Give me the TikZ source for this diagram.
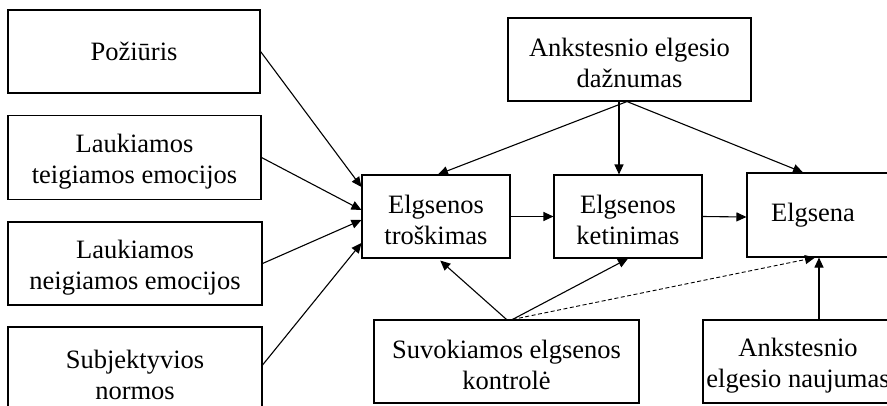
\documentclass[tikz,border=0pt]{standalone}
\usepackage{fontspec}
\setmainfont{Liberation Serif}
\usetikzlibrary{arrows.meta}
% taller first line so two-line labels sit a little lower in their boxes
\newcommand{\topstrut}{\rule{0pt}{26pt}}
\begin{document}
\begin{tikzpicture}[x=1pt,y=-1pt,
  box/.style={draw,line width=1.1pt,rectangle,inner sep=0pt,align=center,
    font=\fontsize{26.5}{31}\selectfont},
  arr/.style={line width=1.1pt,-{Triangle[length=10pt,width=9pt]}},
  darr/.style={arr,dashed,dash pattern=on 4pt off 2.5pt,line width=0.9pt}]
\useasboundingbox (0,0) rectangle (887,405);
\clip (0,0) rectangle (887,405);

% left column of factors
\node[box,minimum width=252pt,minimum height=83pt] (poz) at (134,51.5) {Požiūris};
\node[box,minimum width=253pt,minimum height=84pt] (teig) at (134.5,157.5) {\topstrut Laukiamos\\teigiamos emocijos};
\node[box,minimum width=254pt,minimum height=83pt] (neig) at (135,263.5) {\topstrut Laukiamos\\neigiamos emocijos};
\node[box,minimum width=254pt,minimum height=95pt] (subj) at (135,374.5) {Subjektyvios\\normos};

% top factor
\node[box,minimum width=243pt,minimum height=83pt] (dazn) at (629.5,59.5) {\topstrut Ankstesnio elgesio\\dažnumas};

% main chain
\node[box,minimum width=148pt,minimum height=83pt] (tros) at (436,216.5) {\topstrut Elgsenos\\troškimas};
\node[box,minimum width=148pt,minimum height=83pt] (ket) at (628,216.5) {\topstrut Elgsenos\\ketinimas};
\node[box,minimum width=148pt,minimum height=84pt] (elg) at (821,215) {Elgsena\hspace{16pt}};

% bottom factors
\node[box,minimum width=265pt,minimum height=83pt] (suv) at (506.5,361.5) {\topstrut Suvokiamos elgsenos\\kontrolė};
\node[box,minimum width=190pt,minimum height=83pt] (nauj) at (798,361.5) {\topstrut Ankstesnio\\elgesio naujumas};

% inputs into desire
\draw[arr] (poz.east) -- ([yshift=29.5pt]tros.west);
\draw[arr] (teig.east) -- ([yshift=6.5pt]tros.west);
\draw[arr] (neig.east) -- ([yshift=-3.5pt]tros.west);
\draw[arr] ([yshift=9.5pt]subj.east) -- ([yshift=-26.5pt]tros.west);

% past frequency
\draw[arr] ([xshift=-2.5pt]dazn.south) -- ([xshift=2pt]tros.north);
\draw[arr] ([xshift=-10.5pt]dazn.south) -- ([xshift=-9pt]ket.north);
\draw[arr] ([xshift=-2.5pt]dazn.south) -- ([xshift=-18pt]elg.north);

% chain
\draw[arr] (tros.east) -- (ket.west);
\draw[arr] (ket.east) -- ([yshift=-2pt]elg.west);

% perceived control
\draw[arr,shorten >=3pt] (suv.north) -- ([xshift=2pt]tros.south);
\draw[arr] ([xshift=6pt]suv.north) -- (ket.south);
\draw[darr] ([xshift=6pt]suv.north) -- ([xshift=-6pt]elg.south);

% past novelty
\draw[arr] ([xshift=21pt]nauj.north) -- ([xshift=-2pt]elg.south);
\end{tikzpicture}
\end{document}
